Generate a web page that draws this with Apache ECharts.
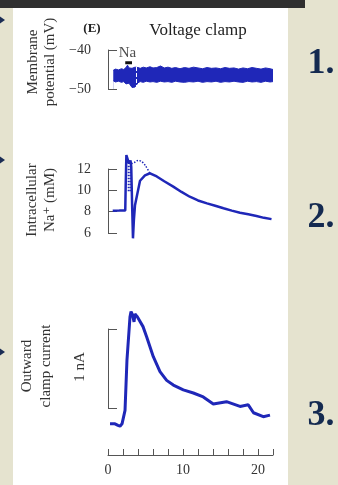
<!DOCTYPE html>
<html>
<head>
<meta charset="utf-8">
<script src="https://cdn.jsdelivr.net/npm/echarts@6/dist/echarts.min.js"></script>
<style>
  html, body { margin: 0; padding: 0; background: #e5e3cf; }
  #chart { width: 338px; height: 485px; }
</style>
</head>
<body>
<div id="chart"></div>
<script>
(function() {
  /** Data: time in s */
  var vmTime = [0.7, 1.0, 1.4, 1.8, 2.1, 2.4, 2.6, 2.8, 3.0, 3.2, 3.4, 3.6, 3.8, 4.0, 4.3, 4.7, 5.1, 5.6, 6.0, 6.5, 7.0, 7.5, 8.0, 8.5, 9.0, 9.6, 10.2, 10.8, 11.4, 12.0, 12.6, 13.2, 13.8, 14.4, 15.0, 15.6, 16.2, 16.8, 17.4, 18.0, 18.6, 19.2, 19.8, 20.4, 21.0, 21.6, 22.0];
  var vmHigh = [-45.2, -44.9, -45.1, -44.8, -45.0, -44.5, -43.9, -44.6, -44.3, -44.7, -44.9, -44.4, -44.8, -44.5, -44.7, -44.4, -44.6, -44.3, -44.6, -44.5, -44.1, -44.6, -44.4, -44.7, -44.5, -44.8, -44.5, -44.7, -44.4, -44.6, -44.8, -44.5, -44.7, -44.6, -44.8, -44.5, -44.7, -44.6, -44.9, -44.6, -44.8, -44.5, -44.7, -44.9, -44.6, -44.8, -45.0];
  var vmLow = [-47.9, -48.2, -48.0, -48.3, -48.1, -48.7, -48.9, -48.5, -48.3, -49.6, -49.8, -49.5, -49.3, -48.4, -48.1, -48.3, -48.0, -48.2, -48.1, -48.3, -48.0, -48.2, -48.1, -48.3, -48.0, -48.2, -48.3, -48.1, -48.2, -48.0, -48.3, -48.1, -48.2, -48.0, -48.3, -48.1, -48.2, -48.0, -48.2, -48.3, -48.0, -48.2, -48.1, -48.3, -48.0, -48.2, -48.1];
  var naPulse = [[2.3, -43.3], [3.2, -43.3]];
  var naLabelPos = [2.6, -40.9];
  var washLine = 3.7;

  var naTime = [0.63, 1.5, 2.3, 2.36, 2.45, 2.55, 2.8, 3.0, 3.1, 3.22, 3.33, 3.45, 3.6, 3.83, 4.27, 4.93, 5.6, 6.5, 7.5, 8.7, 9.8, 10.9, 12.0, 13.2, 14.3, 15.4, 16.5, 17.6, 18.7, 19.8, 20.8, 21.8];
  var naConc = [8.08, 8.1, 8.12, 10.5, 13.3, 13.2, 12.5, 12.8, 12.2, 8.5, 5.5, 7.2, 8.6, 9.4, 10.9, 11.4, 11.6, 11.3, 10.85, 10.35, 9.85, 9.4, 9.05, 8.78, 8.55, 8.32, 8.1, 7.9, 7.75, 7.6, 7.42, 7.3];
  var naDotTime = [3.1, 3.5, 4.0, 4.5, 5.0, 5.6];
  var naDotConc = [12.5, 12.6, 12.8, 12.7, 12.3, 11.6];
  var naHatch = [[2.72, 12.3], [2.72, 9.8], null, [2.95, 12.3], [2.95, 9.8]];

  var curTime = [0.27, 0.93, 1.33, 1.6, 1.87, 2.07, 2.27, 2.53, 2.93, 3.07, 3.27, 3.47, 3.6, 3.87, 4.67, 5.16, 6.04, 6.93, 7.82, 8.71, 10.04, 11.38, 12.7, 14.04, 15.8, 17.6, 18.7, 19.4, 20.7, 21.6];
  var curAmp = [0.0, 0.0, -0.02, -0.03, 0.0, 0.02, 0.17, 0.81, 1.35, 1.42, 1.38, 1.29, 1.39, 1.36, 1.23, 1.10, 0.85, 0.66, 0.55, 0.49, 0.43, 0.39, 0.34, 0.25, 0.28, 0.22, 0.24, 0.14, 0.09, 0.11];

  var xTicks = { min: 0, max: 22, interval: 2 };

  var BLUE = '#1f27b8';
  var GREY = '#555';
  var SERIF = '"Liberation Serif", "DejaVu Serif", serif';

  function pairs(xs, ys) {
    return xs.map(function(x, i) { return [x, ys[i]]; });
  }

  function sideAxis(idx, min, max, interval, offset, showLabel) {
    return {
      type: 'value', gridIndex: idx, min: min, max: max, interval: interval,
      position: 'left', offset: offset,
      axisLine: { show: true, lineStyle: { color: GREY, width: 1 } },
      axisTick: { show: true, inside: true, length: 9, lineStyle: { color: GREY } },
      axisLabel: {
        show: showLabel, margin: 6, color: '#333', fontFamily: SERIF, fontSize: 14,
        formatter: function(v) { return String(v).replace('-', '\u2212'); }
      },
      splitLine: { show: false }
    };
  }

  function hiddenX(idx) {
    return { type: 'value', gridIndex: idx, min: xTicks.min, max: xTicks.max, show: false };
  }

  function txt(x, y, text, size, opts) {
    opts = opts || {};
    return {
      type: 'text', x: x, y: y, z: 10, rotation: opts.rot || 0,
      style: {
        text: text, fill: opts.color || '#333', font: (opts.weight || 'normal') + ' ' + size + 'px ' + SERIF,
        textAlign: 'center', textVerticalAlign: 'middle', lineHeight: opts.lh || size
      }
    };
  }

  function arrow(y) {
    return { type: 'polygon', z: 5, shape: { points: [[0, y - 3.5], [5, y], [0, y + 3.5]] }, style: { fill: '#1b2d55' } };
  }

  var chart = echarts.init(document.getElementById('chart'));
  chart.setOption({
    animation: false,
    backgroundColor: '#e5e3cf',
    grid: [
      { left: 108, right: 65, top: 50, height: 39 },
      { left: 108, right: 65, top: 169, height: 64 },
      { left: 108, right: 65, top: 329, height: 79 }
    ],
    xAxis: [
      hiddenX(0),
      hiddenX(1),
      {
        type: 'value', gridIndex: 2, min: xTicks.min, max: xTicks.max, interval: xTicks.interval,
        position: 'bottom', offset: 47,
        axisLine: { show: true, lineStyle: { color: GREY, width: 1 } },
        axisTick: { show: true, inside: true, length: 6, lineStyle: { color: GREY } },
        axisLabel: {
          margin: 8, color: '#333', fontFamily: SERIF, fontSize: 14,
          formatter: function(v) { return v % 10 === 0 ? String(v) : ''; }
        },
        splitLine: { show: false }
      }
    ],
    yAxis: [
      sideAxis(0, -50, -40, 10, 11, true),
      sideAxis(1, 6, 12, 2, 11, true),
      sideAxis(2, 0.2, 1.2, 1, 15, false)
    ],
    series: [
      // membrane potential noise band: blue down from the top edge, white below the bottom edge
      {
        type: 'line', xAxisIndex: 0, yAxisIndex: 0, symbol: 'none',
        data: pairs(vmTime, vmHigh), lineStyle: { color: BLUE, width: 1 },
        areaStyle: { color: BLUE, opacity: 1, origin: 'start' }
      },
      {
        type: 'line', xAxisIndex: 0, yAxisIndex: 0, symbol: 'none',
        data: pairs(vmTime, vmLow), lineStyle: { color: BLUE, width: 1 },
        areaStyle: { color: '#ffffff', opacity: 1, origin: 'start' }
      },
      {
        type: 'line', xAxisIndex: 0, yAxisIndex: 0, symbol: 'none', data: naPulse, z: 5,
        lineStyle: { color: '#111', width: 3 },
        markLine: {
          silent: true, symbol: 'none', label: { show: false },
          lineStyle: { color: '#fff', type: 'dashed', width: 1 },
          data: [{ xAxis: washLine }]
        }
      },
      {
        type: 'scatter', xAxisIndex: 0, yAxisIndex: 0, symbolSize: 0, data: [naLabelPos],
        label: { show: true, position: 'inside', formatter: 'Na', color: '#222', fontFamily: SERIF, fontSize: 15 }
      },
      // intracellular Na+
      {
        type: 'line', xAxisIndex: 1, yAxisIndex: 1, symbol: 'none', clip: false,
        data: pairs(naTime, naConc), lineStyle: { color: BLUE, width: 2.5 }
      },
      {
        type: 'line', xAxisIndex: 1, yAxisIndex: 1, symbol: 'none', clip: false, smooth: 0.3,
        data: pairs(naDotTime, naDotConc), lineStyle: { color: BLUE, width: 1.5, type: 'dotted' }
      },
      {
        type: 'line', xAxisIndex: 1, yAxisIndex: 1, symbol: 'none', clip: false, connectNulls: false,
        data: naHatch, lineStyle: { color: BLUE, width: 1.5, type: 'dotted' }
      },
      // outward clamp current
      {
        type: 'line', xAxisIndex: 2, yAxisIndex: 2, symbol: 'none', clip: false,
        data: pairs(curTime, curAmp), lineStyle: { color: BLUE, width: 3 }
      }
    ],
    graphic: [
      { type: 'rect', z: -10, shape: { x: 0, y: 0, width: 305, height: 8 }, style: { fill: '#2f2f2f' } },
      { type: 'rect', z: -10, shape: { x: 13, y: 8, width: 275, height: 477 }, style: { fill: '#ffffff' } },
      arrow(20),
      arrow(160),
      arrow(352),
      txt(92, 29, '(E)', 13, { weight: 'bold', color: '#222' }),
      txt(198, 31, 'Voltage clamp', 17, { color: '#222' }),
      txt(42, 62, 'Membrane\npotential (mV)', 15, { rot: Math.PI / 2, lh: 17 }),
      txt(41, 200, 'Intracellular\nNa\u207A (mM)', 15, { rot: Math.PI / 2, lh: 18 }),
      txt(37, 366, 'Outward\nclamp current', 15, { rot: Math.PI / 2, lh: 19 }),
      txt(80, 367, '1 nA', 15, { rot: Math.PI / 2 }),
      txt(321, 64, '1.', 36, { weight: 'bold', color: '#142a50' }),
      txt(321, 218, '2.', 36, { weight: 'bold', color: '#142a50' }),
      txt(321, 416, '3.', 36, { weight: 'bold', color: '#142a50' })
    ]
  });
})();
</script>
</body>
</html>
